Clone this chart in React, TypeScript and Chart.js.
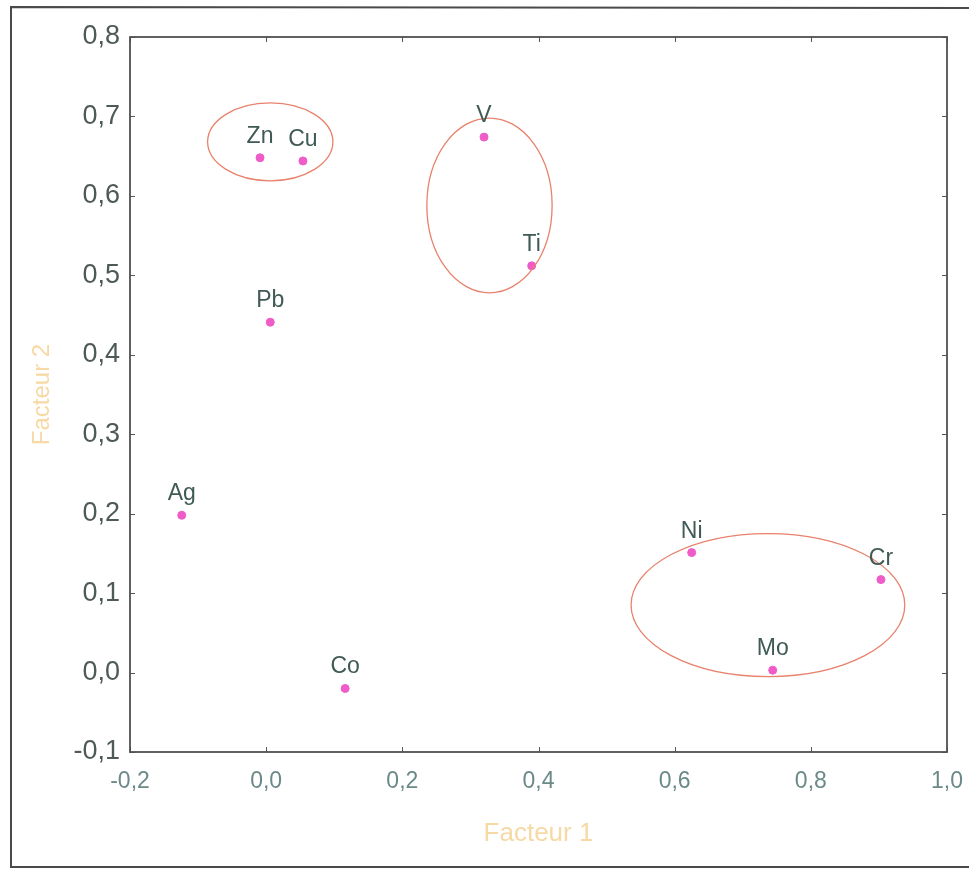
import React, { useEffect, useRef } from "react";
import { Chart, registerables } from "chart.js";

Chart.register(...registerables);

const elements = ["Zn", "Cu", "V", "Ti", "Pb", "Ag", "Co", "Ni", "Cr", "Mo"];
const facteur1 = [-0.009, 0.054, 0.32, 0.39, 0.006, -0.124, 0.116, 0.625, 0.903, 0.744];
const facteur2 = [0.648, 0.644, 0.674, 0.512, 0.441, 0.198, -0.02, 0.151, 0.117, 0.003];

// groupings (ellipses): centre x, centre y, radius x, radius y (data units)
const groupCx = [0.006, 0.328, 0.737];
const groupCy = [0.668, 0.588, 0.085];
const groupRx = [0.092, 0.092, 0.201];
const groupRy = [0.049, 0.11, 0.09];

const xTitle = "Facteur 1";
const yTitle = "Facteur 2";

const fmt = (v: number) => (Math.abs(v) < 1e-9 ? 0 : v).toFixed(1).replace(".", ",");

export default function App() {
  const ref = useRef<HTMLCanvasElement | null>(null);

  useEffect(() => {
    if (!ref.current) return;
    const decor = {
      id: "decor",
      afterDatasetsDraw(chart: any) {
        const { ctx, chartArea, scales } = chart;
        const xs = scales.x;
        const ys = scales.y;
        ctx.save();
        // ellipses
        ctx.strokeStyle = "#e8826c";
        ctx.lineWidth = 1.3;
        for (let i = 0; i < groupCx.length; i++) {
          const cx = xs.getPixelForValue(groupCx[i]);
          const cy = ys.getPixelForValue(groupCy[i]);
          const rx = Math.abs(xs.getPixelForValue(groupCx[i] + groupRx[i]) - cx);
          const ry = Math.abs(ys.getPixelForValue(groupCy[i] + groupRy[i]) - cy);
          ctx.beginPath();
          ctx.ellipse(cx, cy, rx, ry, 0, 0, Math.PI * 2);
          ctx.stroke();
        }
        // point labels
        ctx.fillStyle = "#405a55";
        ctx.font = "23px 'Liberation Sans', Arial, sans-serif";
        ctx.textAlign = "center";
        ctx.textBaseline = "alphabetic";
        const meta = chart.getDatasetMeta(0);
        meta.data.forEach((pt: any, i: number) => {
          ctx.fillText(elements[i], pt.x, pt.y - 15);
        });
        // inward tick marks on all four sides
        ctx.strokeStyle = "#555";
        ctx.lineWidth = 1;
        const L = 5;
        xs.ticks.forEach((t: any) => {
          const px = Math.round(xs.getPixelForValue(t.value)) + 0.5;
          ctx.beginPath();
          ctx.moveTo(px, chartArea.bottom);
          ctx.lineTo(px, chartArea.bottom - L);
          ctx.moveTo(px, chartArea.top);
          ctx.lineTo(px, chartArea.top + L);
          ctx.stroke();
        });
        ys.ticks.forEach((t: any) => {
          const py = Math.round(ys.getPixelForValue(t.value)) + 0.5;
          ctx.beginPath();
          ctx.moveTo(chartArea.left, py);
          ctx.lineTo(chartArea.left + L, py);
          ctx.moveTo(chartArea.right, py);
          ctx.lineTo(chartArea.right - L, py);
          ctx.stroke();
        });
        // plot frame
        ctx.strokeStyle = "#505050";
        ctx.lineWidth = 1.8;
        ctx.strokeRect(chartArea.left, chartArea.top, chartArea.right - chartArea.left, chartArea.bottom - chartArea.top);
        // outer frame (left, top, bottom; right side is cut off)
        ctx.strokeStyle = "#4a4a4a";
        ctx.lineWidth = 2;
        ctx.beginPath();
        ctx.moveTo(969, 8);
        ctx.lineTo(11, 7);
        ctx.lineTo(11, 867);
        ctx.lineTo(969, 867);
        ctx.stroke();
        ctx.restore();
      },
    };

    const chart = new Chart(ref.current, {
      type: "scatter",
      data: {
        datasets: [
          {
            data: facteur1.map((x, i) => ({ x, y: facteur2[i] })),
            backgroundColor: "#ef5cc8",
            borderColor: "#ef5cc8",
            pointRadius: 4,
            pointHoverRadius: 4,
          },
        ],
      },
      options: {
        responsive: false,
        animation: false,
        events: [],
        layout: { padding: { left: 0, top: 37, right: 22, bottom: 0 } },
        plugins: { legend: { display: false }, tooltip: { enabled: false } },
        scales: {
          x: {
            type: "linear",
            min: -0.2,
            max: 1.0,
            afterFit: (s: any) => {
              s.height = 117;
              s.paddingLeft = 0;
              s.paddingRight = 0;
            },
            ticks: {
              stepSize: 0.2,
              padding: 16,
              color: "#6a8a88",
              font: { family: "'Liberation Sans', Arial, sans-serif", size: 23 },
              callback: (v: any) => fmt(Number(v)),
              maxRotation: 0,
            },
            grid: { display: false, drawTicks: false },
            border: { display: false },
            title: {
              display: true,
              text: xTitle,
              color: "#f6d9a4",
              font: { family: "'Liberation Sans', Arial, sans-serif", size: 26 },
              padding: { top: 0, bottom: 20 },
            },
          },
          y: {
            type: "linear",
            min: -0.1,
            max: 0.8,
            afterFit: (s: any) => {
              s.width = 130;
              s.paddingTop = 0;
              s.paddingBottom = 0;
            },
            ticks: {
              stepSize: 0.1,
              padding: 10,
              color: "#4d5a58",
              font: { family: "'Liberation Sans', Arial, sans-serif", size: 27 },
              callback: (v: any) => fmt(Number(v)),
            },
            grid: { display: false, drawTicks: false },
            border: { display: false },
            title: {
              display: true,
              text: yTitle,
              color: "#f6d9a4",
              font: { family: "'Liberation Sans', Arial, sans-serif", size: 24 },
              padding: { top: 28, bottom: 0 },
            },
          },
        },
      },
      plugins: [decor],
    });
    return () => chart.destroy();
  }, []);

  return (
    <div style={{ position: "absolute", left: 0, top: 0, width: 969, height: 869, background: "#fff" }}>
      <canvas ref={ref} width={969} height={869} style={{ display: "block", width: 969, height: 869 }} />
    </div>
  );
}
